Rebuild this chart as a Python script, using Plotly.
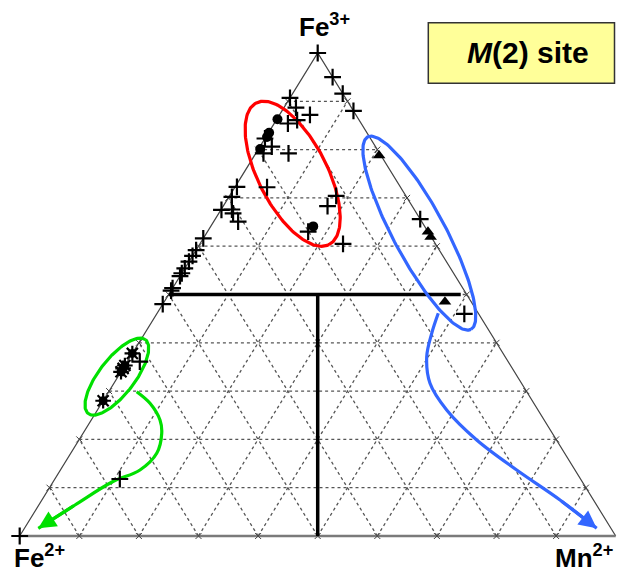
import numpy as np
import plotly.graph_objects as go

# ---------------- data (percent: Fe3+, Fe2+, Mn2+) ----------------
plus_fe3 = [100, 95, 91.6, 88, 90.7, 88.7, 87.2, 86.1, 85.4, 82.3, 80.6, 79.2, 79.2,
            72.2, 72.3, 70.2, 67.5, 67.6, 66.8, 65.1, 70.4, 68.3, 63.0, 60.5,
            61.6, 59.2, 58.0, 56.8, 55.4, 54.4, 53.8, 51.3, 50.8, 48.0,
            36.1, 11.8, 0, 65.6, 46.0]
plus_fe2 = [0, 0, 0, 0, 9.3, 9.3, 7.7, 10.4, 12.3, 17.7, 17.4, 19.5, 15.3,
            22.4, 27.4, 29.3, 32.4, 30.6, 30.8, 30.8, 11.7, 14.2, 20.1, 15.5,
            38.4, 40.8, 42.0, 43.2, 44.6, 45.6, 46.2, 48.7, 49.2, 52.0,
            61.8, 77.3, 100, 0, 2.4]
plus_mn = [0, 5, 8.4, 12, 0, 2.0, 5.1, 3.5, 2.3, 0, 2.0, 1.3, 5.5,
           5.4, 0.3, 0.5, 0.1, 1.8, 2.4, 4.1, 17.9, 17.5, 16.9, 24.0,
           0, 0, 0, 0, 0, 0, 0, 0, 0, 0,
           2.1, 10.9, 0, 34.4, 51.6]

circ_fe3 = [86.3, 83.5, 82.6, 80.1, 64.1]
circ_fe2 = [13.6, 16.4, 17.2, 19.6, 18.7]
circ_mn = [0.1, 0.1, 0.2, 0.3, 17.2]

tri_fe3 = [78.8, 63.0, 61.9, 48.5]
tri_fe2 = [0.3, 0.0, 0.1, 4.4]
tri_mn = [20.9, 37.0, 38.0, 47.1]

star_fe3 = [37.8, 35.3, 34.7, 34.0, 28.0]
star_fe2 = [62.2, 64.7, 65.3, 66.0, 72.0]
star_mn = [0, 0, 0, 0, 0]

# reference (thick) lines, ternary endpoints
hline_fe3 = [50, 50]
hline_fe2 = [50, 1]
hline_mn = [0, 49]
vline_fe3 = [50, 0]
vline_fe2 = [25, 50]
vline_mn = [25, 50]

grid_steps = [10, 20, 30, 40, 50, 60, 70, 80, 90]
corner_labels = ["Fe<sup>3+</sup>", "Fe<sup>2+</sup>", "Mn<sup>2+</sup>"]
title_text = "<i>M</i>(2) site"

# ---------------- geometry ----------------
H = 483 / 596  # height/base ratio of the drawn triangle
W_FIG, H_FIG = 617, 574


def txy(fe3, fe2, mn):
    fe3 = np.asarray(fe3, float)
    fe2 = np.asarray(fe2, float)
    mn = np.asarray(mn, float)
    tot = fe3 + fe2 + mn
    return (mn + fe3 / 2) / tot, fe3 / tot * H


fig = go.Figure()

# dashed grid
gx, gy = [], []
for f in grid_steps:
    for a, b in [((f, 100 - f, 0), (f, 0, 100 - f)),      # const Fe3
                 ((0, 100 - f, f), (100 - f, 0, f)),      # const Mn
                 ((0, f, 100 - f), (100 - f, f, 0))]:     # const Fe2
        x, y = txy([a[0], b[0]], [a[1], b[1]], [a[2], b[2]])
        gx += list(x) + [None]
        gy += list(y) + [None]
fig.add_trace(go.Scatter(x=gx, y=gy, mode="lines",
                         line=dict(color="#555", width=1.3, dash="3px,3px"),
                         hoverinfo="skip"))

# triangle edges
ex, ey = txy([0, 100, 0], [100, 0, 0], [0, 0, 100])
fig.add_trace(go.Scatter(x=[ex[0], ex[1], ex[2]], y=[ey[0], ey[1], ey[2]], mode="lines",
                         line=dict(color="#444", width=1.2), hoverinfo="skip"))
fig.add_trace(go.Scatter(x=[ex[0], ex[2]], y=[ey[0], ey[2]], mode="lines",
                         line=dict(color="#7a7a7a", width=2.5), hoverinfo="skip"))

# small ticks on edges
tk_fe3, tk_fe2, tk_mn = [], [], []
for f in grid_steps:
    tk_fe3 += [0, f, f]
    tk_fe2 += [100 - f, 100 - f, 0]
    tk_mn += [f, 0, 100 - f]
tx, ty = txy(tk_fe3, tk_fe2, tk_mn)
fig.add_trace(go.Scatter(x=tx, y=ty, mode="markers",
                         marker=dict(symbol="x-thin", size=6, color="#444",
                                     line=dict(width=1, color="#444")),
                         hoverinfo="skip"))

# thick black reference lines
x, y = txy(hline_fe3, hline_fe2, hline_mn)
fig.add_trace(go.Scatter(x=x, y=y, mode="lines", line=dict(color="black", width=3.5)))
x, y = txy(vline_fe3, vline_fe2, vline_mn)
fig.add_trace(go.Scatter(x=x, y=y, mode="lines", line=dict(color="black", width=3.5)))


# ellipses (annotation outlines)
def ellipse(center, a, b, ang_deg, n=200):
    cx, cy = txy(*[[v] for v in center])
    t = np.linspace(0, 2 * np.pi, n)
    th = np.radians(ang_deg)
    xs = cx[0] + a * np.cos(t) * np.cos(th) - b * np.sin(t) * np.sin(th)
    ys = cy[0] + a * np.cos(t) * np.sin(th) + b * np.sin(t) * np.cos(th)
    return xs, ys


for center, a, b, ang, col in [((75.0, 16.7, 8.3), 0.1336, 0.0577, -62.8, "#ff0000"),
                               ((62.7, 1.6, 35.7), 0.1832, 0.0436, -61.8, "#3366ff"),
                               ((33.0, 67.2, -0.2), 0.0784, 0.030, 52.3, "#00e000")]:
    xs, ys = ellipse(center, a, b, ang)
    fig.add_trace(go.Scatter(x=xs, y=ys, mode="lines", line=dict(color=col, width=3.2),
                             hoverinfo="skip"))

# curved arrows (annotation paths, plot units)
blue_path_x = [0.7023, 0.6913, 0.6829, 0.6884, 0.7164, 0.7668, 0.8339, 0.9066, 0.9681]
blue_path_y = [0.3737, 0.3401, 0.3008, 0.2562, 0.2114, 0.1611, 0.1107, 0.0604, 0.0129]
green_path_x = [0.1963, 0.2186, 0.2354, 0.2383, 0.2299, 0.2018, 0.1549, 0.0928, 0.0312]
green_path_y = [0.2421, 0.2227, 0.1946, 0.1723, 0.1388, 0.1107, 0.0906, 0.0520, 0.0129]
for px, py, col in [(blue_path_x, blue_path_y, "#3366ff"),
                    (green_path_x, green_path_y, "#00e000")]:
    fig.add_trace(go.Scatter(x=px, y=py, mode="lines",
                             line=dict(color=col, width=3.2, shape="spline"),
                             hoverinfo="skip"))
    fig.add_annotation(x=px[-1], y=py[-1], ax=px[-2], ay=py[-2],
                       xref="x", yref="y", axref="x", ayref="y",
                       showarrow=True, arrowhead=2, arrowsize=1.1, arrowwidth=3.2,
                       arrowcolor=col, text="")

# data points
x, y = txy(plus_fe3, plus_fe2, plus_mn)
fig.add_trace(go.Scatter(x=x, y=y, mode="markers",
                         marker=dict(symbol="cross-thin", size=12, color="black",
                                     line=dict(width=2.2, color="black"))))
x, y = txy(circ_fe3, circ_fe2, circ_mn)
fig.add_trace(go.Scatter(x=x, y=y, mode="markers",
                         marker=dict(symbol="circle", size=10, color="black")))
x, y = txy(tri_fe3, tri_fe2, tri_mn)
fig.add_trace(go.Scatter(x=x, y=y, mode="markers",
                         marker=dict(symbol="triangle-up", size=11, color="black")))
x, y = txy(star_fe3, star_fe2, star_mn)
fig.add_trace(go.Scatter(x=x, y=y, mode="markers",
                         marker=dict(symbol="circle", size=9, color="black")))
fig.add_trace(go.Scatter(x=x, y=y, mode="markers",
                         marker=dict(symbol="asterisk-open", size=13, color="black",
                                     line=dict(width=2.2, color="black"))))

# corner labels
lab_font = dict(family="Liberation Sans, Arial, sans-serif", size=26, color="black")
fig.add_annotation(x=0.511, y=0.856, xref="x", yref="y", text="<b>" + corner_labels[0] + "</b>",
                   showarrow=False, font=lab_font, xanchor="center", yanchor="middle")
fig.add_annotation(x=0.034, y=-38 / 596, xref="x", yref="y", text="<b>" + corner_labels[1] + "</b>",
                   showarrow=False, font=lab_font, xanchor="center", yanchor="bottom", borderpad=0)
fig.add_annotation(x=0.946, y=-38 / 596, xref="x", yref="y", text="<b>" + corner_labels[2] + "</b>",
                   showarrow=False, font=lab_font, xanchor="center", yanchor="bottom", borderpad=0)

# title box
fig.add_shape(type="rect", xref="paper", yref="paper",
              x0=428.3 / W_FIG, x1=614.5 / W_FIG, y0=1 - 83.3 / H_FIG, y1=1 - 22.7 / H_FIG,
              fillcolor="#ffff99", line=dict(color="#333", width=1.5), layer="below")
fig.add_annotation(x=528 / W_FIG, y=1 - 52 / H_FIG, xref="paper", yref="paper",
                   xanchor="center", yanchor="middle",
                   text="<b>" + title_text + "</b>", showarrow=False,
                   font=dict(family="Liberation Sans, Arial, sans-serif", size=30, color="black"))

fig.update_layout(
    width=W_FIG, height=H_FIG, margin=dict(l=0, r=0, t=0, b=0),
    paper_bgcolor="white", plot_bgcolor="white", showlegend=False,
    xaxis=dict(visible=False, range=[-19.7 / 596, (W_FIG - 19.7) / 596]),
    yaxis=dict(visible=False, range=[-38 / 596, 536 / 596]),
)
fig.write_html("out.html", config={"displayModeBar": False},
               post_script="document.body.style.margin='0px';document.body.style.overflow='hidden';")
